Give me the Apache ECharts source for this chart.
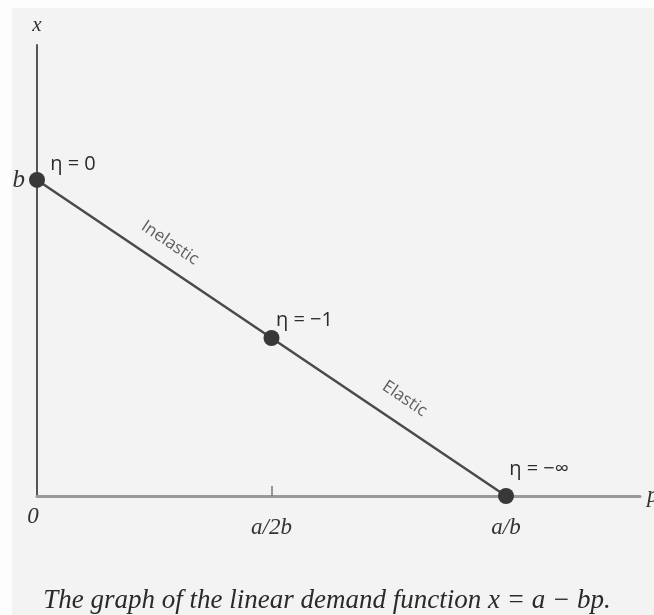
<!DOCTYPE html>
<html>
<head>
<meta charset="utf-8">
<script src="https://cdn.jsdelivr.net/npm/echarts@6/dist/echarts.min.js"></script>
<style>
  html, body { margin: 0; padding: 0; background: #fdfdfd; overflow: hidden; }
  #chart { width: 654px; height: 615px; }
</style>
</head>
<body>
<div id="chart"></div>
<script>
// Linear demand x = a - bp, in units where a/2b = 1 on the price axis
const priceValues = [0, 1, 2];           // 0, a/2b, a/b
const quantityValues = [2, 1, 0];        // intercept, midpoint, zero
const elasticityLabels = ['η = 0', 'η = −1', 'η = −∞'];
const priceTickLabels = ['0', 'a/2b', 'a/b'];
const quantityTickValue = 2;
const quantityTickLabel = 'b';
const regionNames = ['Inelastic', 'Elastic'];
const captionText = 'The graph of the linear demand function x = a − bp.';

const serif = '"Liberation Serif", "DejaVu Serif", serif';
const sans = '"Open Sans", "Noto Sans", sans-serif';

const chart = echarts.init(document.getElementById('chart'), null, { renderer: 'canvas' });

const pointOffsets = [[36, -16], [33, -18], [33, -27]];
const regionOffsets = [[4, -22], [3, -24]];

const demandData = priceValues.map((p, i) => ({
  value: [p, quantityValues[i]],
  label: {
    show: true,
    formatter: elasticityLabels[i],
    position: 'inside',
    offset: pointOffsets[i],
    color: '#2b2b2b',
    fontFamily: sans,
    fontSize: 20
  }
}));

const regionData = regionNames.map((name, i) => ({
  value: [(priceValues[i] + priceValues[i + 1]) / 2, (quantityValues[i] + quantityValues[i + 1]) / 2],
  name: name
}));

const tickFont = { fontFamily: serif, fontStyle: 'italic', fontSize: 23, color: '#333' };

function buildOption(angle) {
  return {
    backgroundColor: '#fdfdfd',
    animation: false,
    graphic: [{
      type: 'rect',
      left: 12, top: 8,
      shape: { width: 642, height: 607 },
      style: { fill: '#f3f3f3' },
      silent: true,
      z: -10
    }],
    grid: { left: 37, right: 14, top: 45, bottom: 119, containLabel: false, outerBoundsMode: 'none' },
    title: {
      text: captionText,
      left: 'center',
      top: 582,
      textStyle: { fontFamily: serif, fontStyle: 'italic', fontWeight: 'normal', fontSize: 27, color: '#2a2a2a' }
    },
    xAxis: {
      type: 'value',
      min: 0,
      max: 2.5714,
      name: 'p',
      nameLocation: 'end',
      nameGap: 7,
      nameTextStyle: { fontFamily: serif, fontStyle: 'italic', fontSize: 23, color: '#333', verticalAlign: 'middle', padding: [6, 0, 0, 0] },
      splitLine: { show: false },
      axisLine: { show: true, lineStyle: { color: '#9a9a9a', width: 3 } },
      axisTick: { show: true, inside: true, length: 10, customValues: [priceValues[1]], lineStyle: { color: '#777', width: 1.5 } },
      axisLabel: {
        customValues: priceValues,
        margin: 9,
        formatter: function (v) {
          const i = priceValues.indexOf(v);
          if (i < 0) return '';
          return (i === 0 ? '{zero|' : '{frac|') + priceTickLabels[i] + '}';
        },
        rich: {
          zero: Object.assign({ padding: [0, 8, 0, 0] }, tickFont),
          frac: Object.assign({ padding: [11, 0, 0, 0] }, tickFont)
        }
      }
    },
    yAxis: {
      type: 'value',
      min: 0,
      max: 2.854,
      name: 'x',
      nameLocation: 'end',
      nameGap: 9,
      nameTextStyle: { fontFamily: serif, fontStyle: 'italic', fontSize: 21, color: '#333', align: 'center' },
      splitLine: { show: false },
      axisLine: { show: true, lineStyle: { color: '#555', width: 2 } },
      axisTick: { show: false },
      axisLabel: Object.assign({
        customValues: [quantityTickValue],
        margin: 12,
        formatter: function (v) { return v === quantityTickValue ? quantityTickLabel : ''; }
      }, tickFont, { fontSize: 25 })
    },
    series: [
      {
        type: 'line',
        data: demandData,
        symbol: 'circle',
        symbolSize: 16,
        itemStyle: { color: '#383838' },
        lineStyle: { color: '#4a4a4a', width: 2.5 },
        z: 3
      },
      {
        type: 'scatter',
        data: regionData,
        symbolSize: 0,
        label: {
          show: true,
          formatter: function (p) { return p.name; },
          position: 'inside',
          rotate: angle,
          color: '#3a3a3a',
          fontFamily: sans,
          fontSize: 17
        },
        z: 4
      }
    ]
  };
}

chart.setOption(buildOption(-34));

// Rotate the region names to follow the drawn demand line
const start = chart.convertToPixel({ gridIndex: 0 }, [priceValues[0], quantityValues[0]]);
const end = chart.convertToPixel({ gridIndex: 0 }, [priceValues[2], quantityValues[2]]);
const angle = -Math.atan2(end[1] - start[1], end[0] - start[0]) * 180 / Math.PI;
const opt = buildOption(angle);
opt.series[1].data = regionData.map((d, i) => Object.assign({}, d, { label: { offset: regionOffsets[i] } }));
chart.setOption(opt);
</script>
</body>
</html>
